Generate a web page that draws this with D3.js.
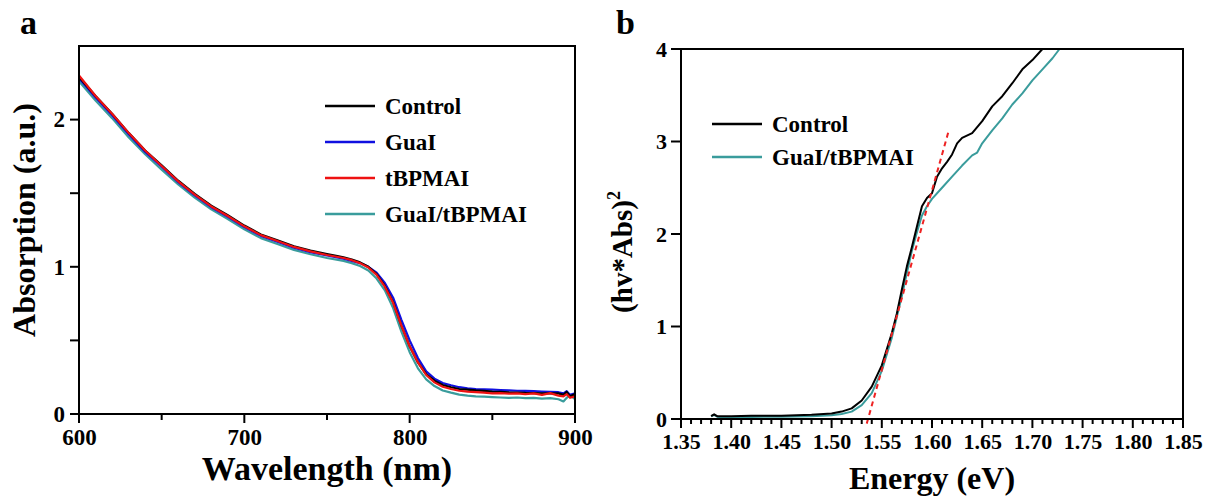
<!DOCTYPE html>
<html>
<head>
<meta charset="utf-8">
<script src="https://cdn.jsdelivr.net/npm/d3@7"></script>
<style>
  body { margin: 0; background: #fff; }
  svg text { font-family: "Liberation Serif", "Times New Roman", serif; font-weight: bold; fill: #000; }
</style>
</head>
<body>
<svg id="chart" width="1207" height="499"></svg>
<script>
// ---- panel a: absorption spectra ----
const wavelength = [600, 610, 620, 630, 640, 650, 660, 670, 680, 690, 700, 710, 720, 730, 740, 750, 760, 765, 770, 775, 780, 785, 790, 795, 800, 805, 810, 815, 820, 825, 830, 835, 840, 845, 850, 855, 860, 865, 870, 875, 880, 885, 890, 893, 895, 897, 900];
const absControl = [2.29, 2.16, 2.04, 1.91, 1.79, 1.69, 1.585, 1.495, 1.415, 1.35, 1.28, 1.22, 1.18, 1.14, 1.11, 1.087, 1.065, 1.05, 1.03, 1.0, 0.95, 0.87, 0.76, 0.60, 0.46, 0.35, 0.27, 0.226, 0.197, 0.182, 0.17, 0.165, 0.16, 0.157, 0.152, 0.15, 0.147, 0.146, 0.143, 0.142, 0.14, 0.141, 0.14, 0.13, 0.15, 0.12, 0.135];
const absGuaI = [2.28, 2.15, 2.03, 1.90, 1.78, 1.68, 1.575, 1.485, 1.405, 1.34, 1.27, 1.21, 1.17, 1.13, 1.10, 1.077, 1.055, 1.04, 1.025, 1.0, 0.96, 0.89, 0.79, 0.64, 0.50, 0.38, 0.29, 0.24, 0.21, 0.195, 0.182, 0.175, 0.17, 0.168, 0.165, 0.163, 0.16, 0.158, 0.157, 0.155, 0.152, 0.15, 0.148, 0.14, 0.155, 0.13, 0.14];
const absTBPMAI = [2.30, 2.16, 2.04, 1.91, 1.79, 1.685, 1.58, 1.49, 1.41, 1.345, 1.275, 1.215, 1.175, 1.135, 1.105, 1.08, 1.06, 1.045, 1.025, 0.995, 0.945, 0.865, 0.755, 0.60, 0.46, 0.35, 0.265, 0.215, 0.185, 0.17, 0.158, 0.152, 0.148, 0.145, 0.14, 0.142, 0.138, 0.14, 0.135, 0.14, 0.13, 0.142, 0.125, 0.12, 0.135, 0.11, 0.12];
const absMixed = [2.26, 2.13, 2.01, 1.88, 1.765, 1.66, 1.56, 1.47, 1.39, 1.325, 1.255, 1.195, 1.155, 1.115, 1.085, 1.06, 1.04, 1.025, 1.005, 0.975, 0.92, 0.84, 0.72, 0.56, 0.42, 0.31, 0.235, 0.19, 0.16, 0.145, 0.132, 0.125, 0.12, 0.118, 0.115, 0.112, 0.11, 0.112, 0.108, 0.11, 0.105, 0.108, 0.1, 0.085, 0.11, 0.13, 0.1];
const xTicksA = [600, 700, 800, 900];
const xMinorA = [650, 750, 850];
const yTicksA = [0, 1, 2];
const yMinorA = [0.5, 1.5];

const seriesA = [
  { name: "Control", color: "#000000", values: absControl },
  { name: "GuaI", color: "#1010e0", values: absGuaI },
  { name: "tBPMAI", color: "#ee1111", values: absTBPMAI },
  { name: "GuaI/tBPMAI", color: "#3a9c9c", values: absMixed }
];
const drawOrderA = [3, 1, 0, 2];

// ---- panel b: Tauc plot ----
const energyControl = [1.38, 1.383, 1.386, 1.39, 1.40, 1.42, 1.45, 1.48, 1.50, 1.51, 1.52, 1.53, 1.54, 1.55, 1.56, 1.565, 1.57, 1.575, 1.58, 1.585, 1.59, 1.595, 1.60, 1.605, 1.61, 1.615, 1.62, 1.625, 1.63, 1.64, 1.65, 1.66, 1.67, 1.68, 1.69, 1.70, 1.71];
const taucControl = [0.03, 0.05, 0.03, 0.03, 0.03, 0.035, 0.035, 0.045, 0.06, 0.08, 0.115, 0.2, 0.35, 0.58, 0.93, 1.14, 1.4, 1.65, 1.86, 2.08, 2.3, 2.39, 2.44, 2.62, 2.71, 2.78, 2.86, 2.98, 3.04, 3.09, 3.22, 3.38, 3.49, 3.63, 3.78, 3.88, 4.0];
const energyMixed = [1.38, 1.383, 1.386, 1.39, 1.40, 1.42, 1.45, 1.48, 1.50, 1.51, 1.52, 1.53, 1.54, 1.55, 1.56, 1.57, 1.575, 1.58, 1.585, 1.59, 1.595, 1.60, 1.61, 1.62, 1.63, 1.64, 1.645, 1.65, 1.66, 1.67, 1.68, 1.69, 1.70, 1.71, 1.72, 1.727];
const taucMixed = [0.03, 0.045, 0.025, 0.02, 0.02, 0.022, 0.025, 0.03, 0.04, 0.055, 0.08, 0.15, 0.28, 0.52, 0.88, 1.33, 1.58, 1.82, 2.02, 2.2, 2.3, 2.38, 2.5, 2.62, 2.74, 2.85, 2.88, 2.98, 3.12, 3.25, 3.4, 3.52, 3.66, 3.78, 3.9, 4.0];
const fitEnergy = [1.535, 1.617];
const fitTauc = [-0.05, 3.13];
const xTicksB = [1.35, 1.40, 1.45, 1.50, 1.55, 1.60, 1.65, 1.70, 1.75, 1.80, 1.85];
const yTicksB = [0, 1, 2, 3, 4];

const seriesB = [
  { name: "Control", color: "#000000", x: energyControl, y: taucControl },
  { name: "GuaI/tBPMAI", color: "#3a9c9c", x: energyMixed, y: taucMixed }
];

const svg = d3.select("#chart");

function frame(g, w, h) {
  g.append("rect").attr("width", w).attr("height", h)
    .attr("fill", "none").attr("stroke", "#000").attr("stroke-width", 2);
}

// tick marks drawn as plain lines from the scale, labels come from d3.axis
function xTickMarks(g, scale, values, y0, len) {
  g.append("g").selectAll("line").data(values).join("line")
    .attr("x1", d => scale(d)).attr("x2", d => scale(d))
    .attr("y1", y0).attr("y2", y0 + len)
    .attr("stroke", "#000").attr("stroke-width", 2);
}
function yTickMarks(g, scale, values, len) {
  g.append("g").selectAll("line").data(values).join("line")
    .attr("x1", 0).attr("x2", -len)
    .attr("y1", d => scale(d)).attr("y2", d => scale(d))
    .attr("stroke", "#000").attr("stroke-width", 2);
}
function labelsOnly(sel, size) {
  sel.select("path.domain").remove();
  sel.selectAll(".tick line").remove();
  sel.selectAll("text").style("font-size", size);
}

// ================= panel a =================
const aLeft = 79, aTop = 46, aW = 496, aH = 368;
const ga = svg.append("g").attr("transform", `translate(${aLeft},${aTop})`);
const xa = d3.scaleLinear().domain([600, 900]).range([0, aW]);
const ya = d3.scaleLinear().domain([0, 2.5]).range([aH, 0]);

xTickMarks(ga, xa, xTicksA, aH, 9);
xTickMarks(ga, xa, xMinorA, aH, 6);
yTickMarks(ga, ya, yTicksA.concat(yMinorA), 9);
ga.append("g").attr("transform", `translate(0,${aH})`)
  .call(d3.axisBottom(xa).tickValues(xTicksA).tickSize(9).tickPadding(6).tickFormat(d3.format("d")))
  .call(labelsOnly, "23px");
ga.append("g")
  .call(d3.axisLeft(ya).tickValues(yTicksA).tickSize(9).tickPadding(5).tickFormat(d3.format("d")))
  .call(labelsOnly, "23px");

const lineA = d3.line().x((d, i) => xa(wavelength[i])).y(d => ya(d));
drawOrderA.forEach(k => {
  ga.append("path").datum(seriesA[k].values)
    .attr("d", lineA)
    .attr("fill", "none")
    .attr("stroke", seriesA[k].color)
    .attr("stroke-width", 2.2)
    .attr("stroke-linejoin", "round");
});
frame(ga, aW, aH);

const legA = ga.append("g").attr("transform", "translate(246,60)");
seriesA.forEach((s, i) => {
  const row = legA.append("g").attr("transform", `translate(0,${i * 36})`);
  row.append("line").attr("x1", 0).attr("x2", 50).attr("stroke", s.color).attr("stroke-width", 2.5);
  row.append("text").attr("x", 60).attr("y", 8).style("font-size", "23px").text(s.name);
});

ga.append("text")
  .attr("x", aW / 2).attr("y", 434)
  .attr("text-anchor", "middle").style("font-size", "34px")
  .text("Wavelength (nm)");
ga.append("text")
  .attr("transform", `translate(${35 - aLeft},${aH / 2 - 10}) rotate(-90)`)
  .attr("text-anchor", "middle").style("font-size", "32px")
  .text("Absorption (a.u.)");
svg.append("text").attr("x", 20).attr("y", 34).style("font-size", "34px").text("a");

// ================= panel b =================
const bLeft = 681, bTop = 49, bW = 502, bH = 370;
const gb = svg.append("g").attr("transform", `translate(${bLeft},${bTop})`);
const xb = d3.scaleLinear().domain([1.35, 1.85]).range([0, bW]);
const yb = d3.scaleLinear().domain([0, 4]).range([bH, 0]);

const minorB = d3.range(135, 186).filter(v => v % 5 !== 0).map(v => v / 100);
xTickMarks(gb, xb, xTicksB, bH, 9);
xTickMarks(gb, xb, minorB, bH, 5);
yTickMarks(gb, yb, yTicksB, 10);
gb.append("g").attr("transform", `translate(0,${bH})`)
  .call(d3.axisBottom(xb).tickValues(xTicksB).tickSize(9).tickPadding(5).tickFormat(d3.format(".2f")))
  .call(labelsOnly, "22px");
gb.append("g")
  .call(d3.axisLeft(yb).tickValues(yTicksB).tickSize(10).tickPadding(4).tickFormat(d3.format("d")))
  .call(labelsOnly, "22px");

seriesB.slice().reverse().forEach(s => {
  gb.append("path").datum(s.y)
    .attr("d", d3.line().x((d, i) => xb(s.x[i])).y(d => yb(d)))
    .attr("fill", "none")
    .attr("stroke", s.color)
    .attr("stroke-width", 2)
    .attr("stroke-linejoin", "round");
});
gb.append("path").datum(fitTauc)
  .attr("d", d3.line().x((d, i) => xb(fitEnergy[i])).y(d => yb(d)))
  .attr("fill", "none")
  .attr("stroke", "#ee2222")
  .attr("stroke-width", 2)
  .attr("stroke-dasharray", "5,4");
frame(gb, bW, bH);

const legB = gb.append("g").attr("transform", "translate(31,75)");
seriesB.forEach((s, i) => {
  const row = legB.append("g").attr("transform", `translate(0,${i * 33})`);
  row.append("line").attr("x1", 0).attr("x2", 50).attr("stroke", s.color).attr("stroke-width", 2.5);
  row.append("text").attr("x", 60).attr("y", 8).style("font-size", "23px").text(s.name);
});

gb.append("text")
  .attr("x", bW / 2).attr("y", 440)
  .attr("text-anchor", "middle").style("font-size", "32px")
  .text("Energy (eV)");
const yLabB = gb.append("text")
  .attr("transform", `translate(${632 - bLeft},${bH / 2 + 18}) rotate(-90)`)
  .attr("text-anchor", "middle").style("font-size", "29px");
yLabB.append("tspan").text("(hv*Abs)");
yLabB.append("tspan").attr("dy", -12).style("font-size", "18px").text("2");
svg.append("text").attr("x", 616).attr("y", 34).style("font-size", "34px").text("b");
</script>
</body>
</html>
